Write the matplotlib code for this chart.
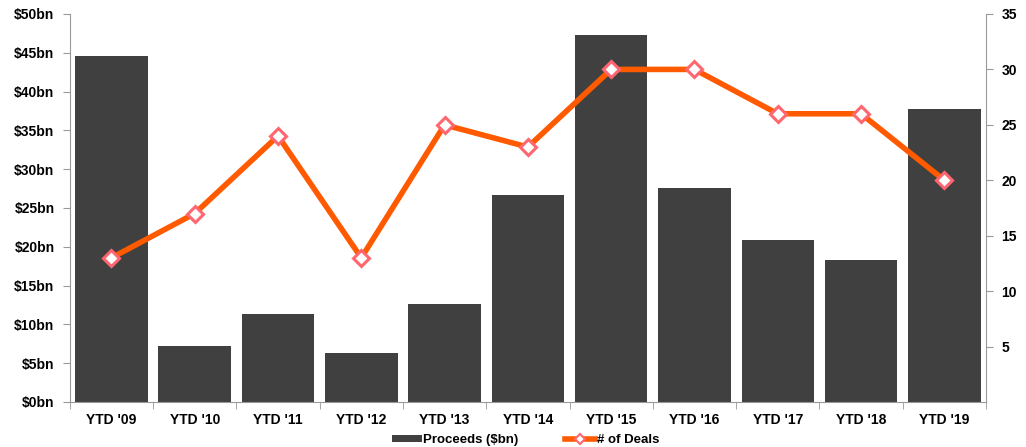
import numpy as np
import matplotlib.pyplot as plt
import matplotlib.ticker as ticker

plt.rcParams['font.family'] = ['Liberation Sans', 'DejaVu Sans']
plt.rcParams['font.weight'] = 'bold'

years = ["YTD '09", "YTD '10", "YTD '11", "YTD '12", "YTD '13", "YTD '14",
         "YTD '15", "YTD '16", "YTD '17", "YTD '18", "YTD '19"]
proceeds = [44.6, 7.2, 11.3, 6.3, 12.6, 26.7, 47.3, 27.6, 20.9, 18.3, 37.8]
deals = [13, 17, 24, 13, 25, 23, 30, 30, 26, 26, 20]

bar_color = '#404040'
line_color = '#FF5A00'
spine_color = '#999999'

fig = plt.figure(figsize=(10.26, 4.47), dpi=100)
ax = fig.add_axes([0.068, 0.1007, 0.893, 0.868])
x = np.arange(len(years))

bars = ax.bar(x, proceeds, width=0.87, color=bar_color, label='Proceeds ($bn)', zorder=2)
ax.set_xlim(-0.5, len(years) - 0.5)
ax.set_ylim(0, 50)
ax.yaxis.set_major_locator(ticker.MultipleLocator(5))
ax.yaxis.set_major_formatter(ticker.FuncFormatter(lambda v, p: '$%dbn' % v))
ax.set_xticks(x)
ax.set_xticklabels(years)
ax.set_xticks(np.arange(-0.5, len(years)), minor=True)
ax.tick_params(axis='x', which='major', length=0, pad=8, labelsize=10)
ax.tick_params(axis='x', which='minor', length=5, color=spine_color)
ax.tick_params(axis='y', length=5, color=spine_color, labelsize=10, pad=6)
for s in ['top', 'right']:
    ax.spines[s].set_visible(False)
for s in ['left', 'bottom']:
    ax.spines[s].set_color(spine_color)

ax2 = ax.twinx()
line, = ax2.plot(x, deals, color=line_color, linewidth=4, marker='D', markersize=8,
                 markerfacecolor='white', markeredgecolor='#FF6670', markeredgewidth=2.2,
                 label='# of Deals', zorder=3)
ax2.set_ylim(0, 35)
ax2.set_yticks([5, 10, 15, 20, 25, 30, 35])
ax2.tick_params(axis='y', length=5, color=spine_color, labelsize=10, pad=6)
for s in ['top', 'left', 'bottom']:
    ax2.spines[s].set_visible(False)
ax2.spines['right'].set_color(spine_color)

leg = fig.legend([bars, line], ['Proceeds ($bn)', '# of Deals'], loc='lower center',
                 bbox_to_anchor=(0.512, -0.025), ncol=2, frameon=False, fontsize=9.5,
                 handlelength=2.3, handleheight=0.5, columnspacing=3.5, handletextpad=0.1)
leg.legend_handles[1].set_markersize(5)
leg.legend_handles[1].set_markeredgewidth(1.5)

fig.savefig('out.png', dpi=100)
